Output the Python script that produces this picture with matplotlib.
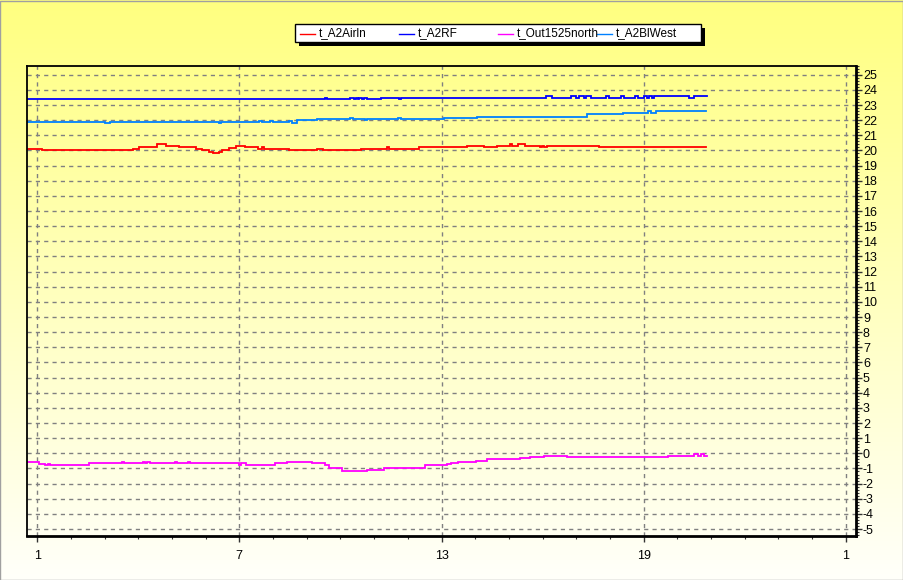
import matplotlib

matplotlib.use("Agg")
import numpy as np
import matplotlib.pyplot as plt
from matplotlib.lines import Line2D
from matplotlib.patches import Rectangle
from matplotlib.ticker import FixedLocator, MultipleLocator

plt.rcParams["font.family"] = ["Liberation Sans", "DejaVu Sans"]
plt.rcParams["axes.unicode_minus"] = False

# Day-of-month positions (step starts) and values.
AIRLN_X = [0.70, 1.15, 3.85, 4.03, 4.56, 4.83, 5.22, 5.72, 5.90, 6.11, 6.23,
           6.41, 6.50, 6.70, 6.91, 7.18, 7.56, 7.68, 7.74, 8.46, 9.32, 9.47,
           10.62, 11.37, 11.43, 12.32, 13.77, 14.25, 14.66, 15.02, 15.08,
           15.26, 15.47, 15.91, 15.97, 16.03, 16.12, 17.66, 20.84]
AIRLN_Y = [20.07, 20.0, 20.07, 20.2, 20.4, 20.27, 20.2, 20.07, 20.0, 19.9, 19.8,
           19.9, 20.0, 20.17, 20.27, 20.2, 20.07, 20.2, 20.07, 20.0, 20.07, 20.0,
           20.07, 20.2, 20.07, 20.2, 20.27, 20.2, 20.27, 20.4, 20.27,
           20.4, 20.27, 20.2, 20.27, 20.2, 20.27, 20.2, 20.2]

RF_X = [0.70, 9.55, 9.61, 10.27, 10.39, 10.45, 10.51, 10.56, 10.65, 10.71,
        10.80, 11.19, 11.75, 11.81, 16.09, 16.27, 16.83, 16.98, 17.07, 17.22,
        17.28, 17.43, 17.87, 17.96, 18.32, 18.41, 18.73, 18.82, 19.00, 19.09,
        19.15, 19.24, 19.30, 20.34, 20.49, 20.87]
RF_Y = [23.4, 23.47, 23.4, 23.47, 23.4, 23.47, 23.4, 23.47, 23.4, 23.47,
        23.4, 23.47, 23.4, 23.47, 23.6, 23.47, 23.6, 23.47, 23.6, 23.47,
        23.6, 23.47, 23.6, 23.47, 23.6, 23.47, 23.6, 23.47, 23.6, 23.47,
        23.6, 23.47, 23.6, 23.47, 23.6, 23.6]

OUT_X = [0.70, 1.05, 1.24, 1.33, 1.39, 2.55, 3.53, 3.58, 4.15, 4.21, 4.27,
         4.36, 5.10, 5.16, 5.49, 5.55, 7.00, 7.06, 7.21, 8.07, 8.43, 9.17,
         9.53, 9.67, 10.06, 10.51, 10.56, 10.80, 11.28, 12.50, 13.15, 13.27,
         13.48, 14.01, 14.34, 15.32, 15.64, 16.03, 16.71, 19.71, 20.49, 20.60,
         20.69, 20.78, 20.87]
OUT_Y = [-0.6, -0.7, -0.78, -0.7, -0.78, -0.67, -0.6, -0.67, -0.6, -0.67, -0.6,
         -0.67, -0.6, -0.67, -0.6, -0.67, -0.8, -0.67, -0.78, -0.67, -0.6, -0.67,
         -0.78, -1.0, -1.15, -1.2, -1.15, -1.08, -1.0, -0.8, -0.73, -0.67,
         -0.6, -0.49, -0.4, -0.31, -0.24, -0.18, -0.22, -0.18, -0.03, -0.18,
         -0.03, -0.18, -0.18]

WEST_X = [0.70, 3.02, 3.17, 6.41, 6.47, 7.59, 7.68, 7.92, 8.01, 8.46, 8.57,
          8.72, 9.32, 10.27, 10.36, 10.74, 10.80, 11.72, 11.81, 13.06, 14.04,
          17.31, 18.38, 19.12, 19.21, 19.36, 20.84]
WEST_Y = [21.87, 21.8, 21.87, 21.8, 21.87, 21.95, 21.87, 21.95, 21.87, 21.95,
          21.8, 22.0, 22.05, 22.12, 22.05, 22.0, 22.05, 22.12, 22.05, 22.15,
          22.22, 22.38, 22.45, 22.58, 22.45, 22.58, 22.58]

SERIES = [
    ("t_A2Airln", AIRLN_X, AIRLN_Y, "#ff0000"),
    ("t_A2RF", RF_X, RF_Y, "#0000ff"),
    ("t_Out1525north", OUT_X, OUT_Y, "#ff00ff"),
    ("t_A2BlWest", WEST_X, WEST_Y, "#0080ff"),
]

X_TICKS = [1, 7, 13, 19, 25]
X_LABELS = ["1", "7", "13", "19", "1"]

W, H = 904, 580
fig = plt.figure(figsize=(W / 100, H / 100), dpi=100)

# yellow-to-white vertical gradient behind everything
bg = fig.add_axes([0, 0, 1, 1], zorder=-2)
top = np.array([255, 255, 128]) / 255
bot = np.array([255, 255, 250]) / 255
t = np.linspace(0, 1, 256)[:, None]
grad = (top * (1 - t) + bot * t)[:, None, :]
bg.imshow(grad, aspect="auto", extent=[0, 1, 0, 1])
bg.set_axis_off()

ax = fig.add_axes([27 / W, 1 - 536 / H, (856 - 27) / W, (536 - 65.5) / H])
ax.set_facecolor("none")

for name, xs, ys, color in SERIES:
    ax.step(xs, ys, where="post", color=color, lw=1.3, solid_joinstyle="miter")

ax.set_xlim(0.70, 25.30)
ax.set_ylim(-5.46, 25.61)

ax.xaxis.set_major_locator(FixedLocator(X_TICKS))
ax.set_xticklabels(X_LABELS)
ax.xaxis.set_minor_locator(MultipleLocator(1))
ax.yaxis.set_major_locator(MultipleLocator(1))
ax.yaxis.set_minor_locator(MultipleLocator(0.2))
ax.yaxis.tick_right()
ax.tick_params(axis="both", which="major", length=4, width=1, labelsize=9,
               direction="out", color="#333333")
ax.tick_params(axis="both", which="minor", length=2.5, width=0.8,
               direction="out", color="#333333")
ax.tick_params(axis="y", pad=1)
ax.tick_params(axis="x", pad=6)

ax.grid(True, which="major", color="#808080", linestyle=(0, (3, 3)), lw=1)
for side, sp in ax.spines.items():
    sp.set_color("black")
    sp.set_linewidth(2.0 if side in ("bottom", "right") else 1.3)

# legend box drawn in pixel coords of the figure
def fx(px):
    return px / W


def fy(py):
    return 1 - py / H


fig.add_artist(Rectangle((fx(299), fy(46)), fx(406), 18 / H,
                         transform=fig.transFigure, facecolor="black",
                         edgecolor="none", zorder=5))
fig.add_artist(Rectangle((fx(295), fy(42)), fx(406), 18 / H,
                         transform=fig.transFigure, facecolor="white",
                         edgecolor="black", lw=1, zorder=6))
legend_x = [300, 399, 498, 597]
for (name, _, _, color), lx in zip(SERIES, legend_x):
    fig.add_artist(Line2D([fx(lx), fx(lx + 15)], [fy(33.5), fy(33.5)],
                          transform=fig.transFigure, color=color, lw=1,
                          zorder=7))
    fig.text(fx(lx + 19), fy(33.5), name, fontsize=8.5, va="center",
             ha="left", zorder=8)

# window-like frame edge
fig.add_artist(Rectangle((0, 0), 1 - 1 / W, 1 - 1 / H, transform=fig.transFigure,
                         facecolor="none", edgecolor="#a0a0a0", lw=1,
                         zorder=9))

fig.savefig("out.png", dpi=100)
